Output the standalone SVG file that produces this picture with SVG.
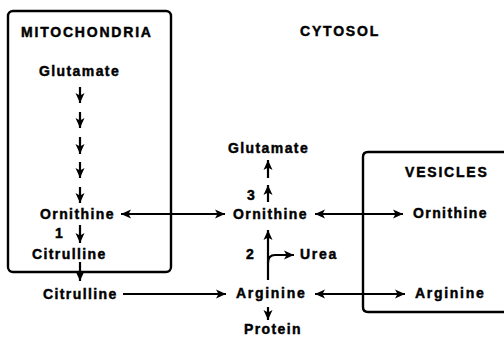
<svg xmlns="http://www.w3.org/2000/svg" width="504" height="337" viewBox="0 0 504 337">
<defs>
<style>
text{font-family:"Liberation Sans",Arial,sans-serif;font-weight:bold;font-size:14px;fill:#000;stroke:#000;stroke-width:0.45;letter-spacing:1.4px}
.t{letter-spacing:1.8px}
.box{fill:none;stroke:#000;stroke-width:2.4}
.c{fill:none;stroke:#000;stroke-width:2.2}
</style>
<marker id="ah" viewBox="0 0 10 10" refX="10" refY="5" markerWidth="11" markerHeight="10" markerUnits="userSpaceOnUse" orient="auto-start-reverse">
<path d="M0,0.5 L10,5 L0,9.5 L2.5,5 Z" fill="#000"/>
</marker>
</defs>
<rect width="504" height="337" fill="#fff"/>
<g id="mitochondria">
<rect class="box" x="8" y="11" width="163" height="261" rx="5"/>
<text class="t" x="21" y="37">MITOCHONDRIA</text>
</g>
<g id="cytosol-label"><text class="t" x="300" y="36">CYTOSOL</text></g>
<g id="vesicles">
<path class="box" d="M508,152 H368 Q363,152 363,157 V307 Q363,312 368,312 H508"/>
<text class="t" x="405" y="177">VESICLES</text>
</g>
<g id="glutamate-mito"><text x="39" y="76">Glutamate</text></g>
<g id="ornithine-mito"><text x="40" y="219">Ornithine</text></g>
<g id="label-1"><text x="55" y="238">1</text></g>
<g id="citrulline-mito"><text x="32" y="259">Citrulline</text></g>
<g id="citrulline-cyto"><text x="43" y="299">Citrulline</text></g>
<g id="glutamate-cyto"><text x="228" y="153">Glutamate</text></g>
<g id="label-3"><text x="247" y="200">3</text></g>
<g id="ornithine-cyto"><text x="233" y="219">Ornithine</text></g>
<g id="label-2"><text x="246" y="259">2</text></g>
<g id="urea"><text x="300" y="259" style="letter-spacing:1.7px">Urea</text></g>
<g id="arginine-cyto"><text x="236" y="298" style="letter-spacing:1.7px">Arginine</text></g>
<g id="protein"><text x="244" y="334">Protein</text></g>
<g id="ornithine-ves"><text x="413" y="218">Ornithine</text></g>
<g id="arginine-ves"><text x="415" y="298" style="letter-spacing:1.7px">Arginine</text></g>
<g id="connectors">
<line class="c" x1="80" y1="87" x2="80" y2="103" marker-end="url(#ah)"/>
<line class="c" x1="80" y1="112" x2="80" y2="128" marker-end="url(#ah)"/>
<line class="c" x1="80" y1="137" x2="80" y2="154" marker-end="url(#ah)"/>
<line class="c" x1="80" y1="162" x2="80" y2="178" marker-end="url(#ah)"/>
<line class="c" x1="80" y1="187" x2="80" y2="203" marker-end="url(#ah)"/>
<line class="c" x1="80" y1="225" x2="80" y2="243" marker-end="url(#ah)"/>
<line class="c" x1="80" y1="262" x2="80" y2="281" marker-end="url(#ah)"/>
<line class="c" x1="121" y1="214" x2="225" y2="214" marker-start="url(#ah)" marker-end="url(#ah)"/>
<line class="c" x1="315" y1="214" x2="403" y2="214" marker-start="url(#ah)" marker-end="url(#ah)"/>
<line class="c" x1="123" y1="294" x2="226" y2="294" marker-end="url(#ah)"/>
<line class="c" x1="315" y1="294" x2="405" y2="294" marker-start="url(#ah)" marker-end="url(#ah)"/>
<line class="c" x1="268" y1="178" x2="268" y2="160" marker-end="url(#ah)"/>
<line class="c" x1="268" y1="202" x2="268" y2="185" marker-end="url(#ah)"/>
<line class="c" x1="268" y1="280" x2="268" y2="230" marker-end="url(#ah)"/>
<path class="c" d="M268,263 Q268,255 275,255 L294,255" marker-end="url(#ah)"/>
<line class="c" x1="268" y1="307" x2="268" y2="320" marker-end="url(#ah)"/>
</g>
</svg>
